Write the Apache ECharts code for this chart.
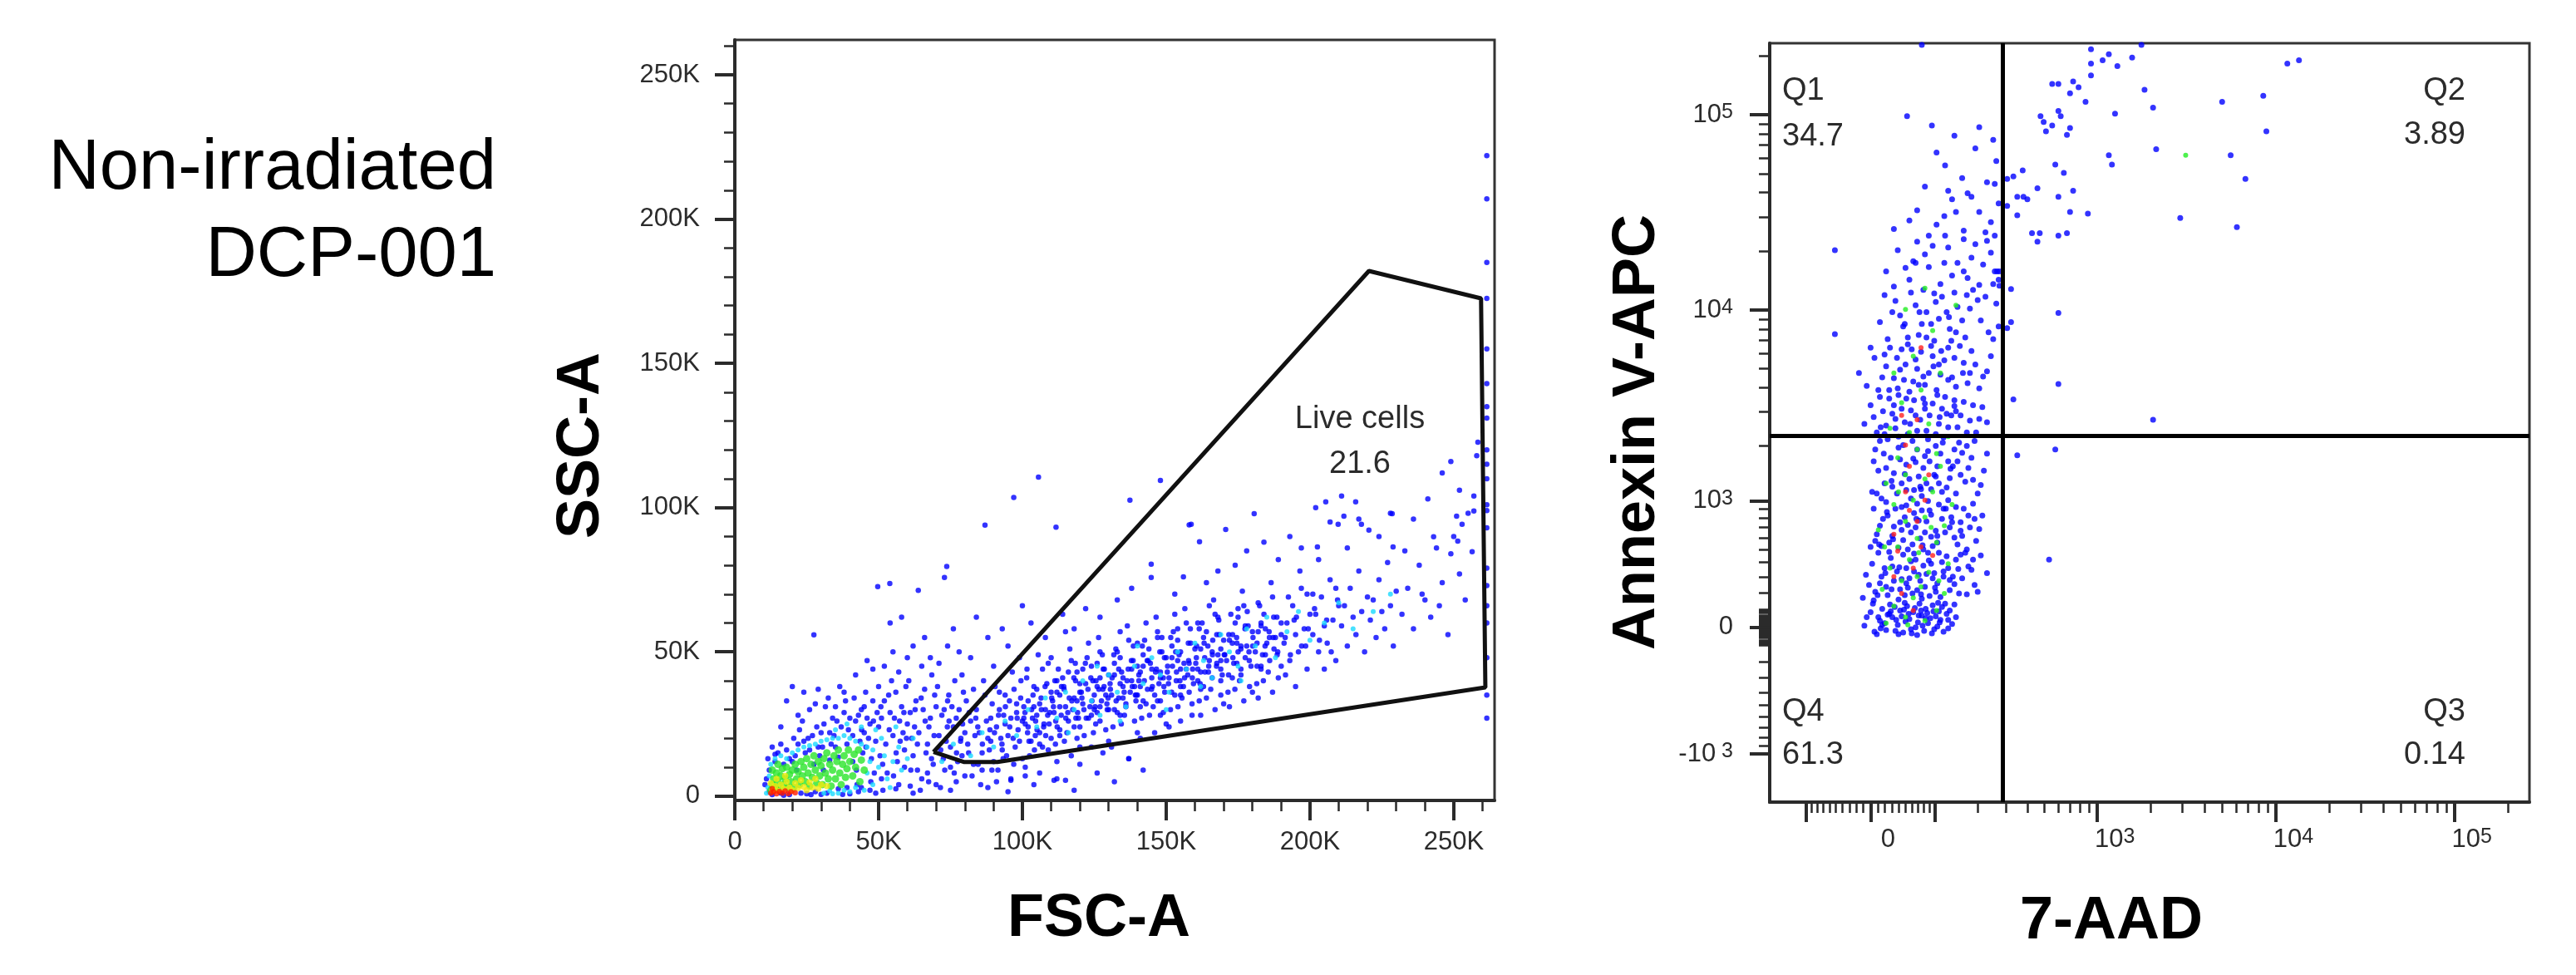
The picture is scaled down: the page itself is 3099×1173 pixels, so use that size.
<!DOCTYPE html>
<html>
<head>
<meta charset="utf-8">
<title>Non-irradiated DCP-001</title>
<script src="https://cdn.jsdelivr.net/npm/echarts@6.0.0/dist/echarts.min.js"></script>
<style>
  html, body { margin: 0; padding: 0; background: #fff; }
  #chart { width: 3099px; height: 1173px; }
</style>
</head>
<body>
<div id="chart"></div>
<script>
const FONT = '"Liberation Sans", Arial, sans-serif';
const INK = '#2b2b2b';

// ---- left plot: FSC-A vs SSC-A, values in thousands ----
const fscRange = [0, 264.2];
const sscRange = [-1.5, 262.1];
const scatterMajorTicks = [0, 50, 100, 150, 200, 250];
const scatterMinorTicks = [10, 20, 30, 40, 60, 70, 80, 90, 110, 120, 130, 140, 160, 170, 180, 190, 210, 220, 230, 240, 260];

const liveGate = [[69.1, 15.3], [79.8, 11.8], [91.3, 11.8], [261, 37.7], [259.5, 172.5], [220.5, 182], [69.1, 15.3]];
const liveGateStat = ['Live cells', '21.6'];

const fscSscBlue = [
  [13,0.5],[11,6],[12,9],[14,12],[16,1],[17,11],[19,13],[11.5,13],[15,15],[18,16],[20,12],[12,1.5],[19,0.5],[17,0.3],[14,14.5],[10.5,4],[13,17],[16,18],
  [21,14],[22,18],[23,1],[24,19],[25,0.8],[26,16],[27,21],[28,1.5],[29,17],[30,22],[20.5,20],[22.5,23],[24.5,15],[26.5,0.5],[28.5,24],[23.5,26],[27.5,11],[21.5,9],[25.5,20],[29.5,14],[30,0.6],[22,28],[26,30],[28,32],[27.5,55.9],[24,36],[29,37],[18,33],[20,38],[16,24],
  [30.5,17],[31,25],[32,1],[33,22],[34,27],[35,17],[36,2.5],[37,24],[38,29],[39,18],[40,0.8],[31.5,31],[33.5,18],[35.5,26],[37.5,0.6],[39.5,23],[32.5,34],[36.5,38],[38.5,33],[34.5,21],[30.8,9],[33,12.5],[36,13.5],[39,3],[40,27],[35,31],[38,36],
  [41,21],[42,26],[43,1.5],[44,30],[45,22],[46,27],[47,2],[48,33],[49,19],[50,24],[41.5,34],[43.5,19],[45.5,36],[47.5,13],[49.5,29],[42.5,4],[44.5,15],[46.5,20],[48.5,8],[50,38],[42,42],[46,47],[48,44],[44,3],[49,1],[47,25],[45,31],[41,12],[43,28],
  [51,27],[52,33],[53,8],[54,29],[55,21],[56,36],[57,4],[58,31],[59,16],[60,25],[50.5,14],[52.5,18],[54.5,40],[56.5,12],[58.5,22],[51.5,2],[53.5,35],[55.5,27],[57.5,19],[59.5,38],[52,45],[55,50],[57,43],[49.7,72.6],[53.9,73.7],[58,62],[54,60],[60,48],[51,6],[56,2.5],[59,10],
  [61,29],[62,14],[63,33],[64,22],[65,6],[66,37],[67,18],[68,27],[69,11],[70,31],[60.5,40],[62.5,24],[64.5,2],[66.5,15],[68.5,42],[63.5,9],[65.5,30],[67.5,24],[69.5,35],[61.5,20],[63.8,71.3],[66,55],[68,48],[62,52],[65,45],[70,4],[61,3.5],[67,8],
  [71,21],[72,28],[73,9],[74,33],[75,17],[76,24],[77,5],[78,30],[79,14],[80,22],[70.5,38],[72.5,13],[74.5,26],[76.5,40],[78.5,19],[71.5,3],[73.5,19],[75.5,31],[77.5,12],[79.5,36],[72.9,75.8],[73.7,79.6],[76,58],[78,50],[71,46],[74,52],[80,7],[75,10],[77,27],[79,42],
  [81,18],[82,26],[83,11],[84,30],[85,22],[86,15],[87,35],[88,20],[89,27],[90,12],[80.5,33],[82.5,7],[84.5,24],[86.5,40],[88.5,16],[81.5,29],[83.5,21],[85.5,4],[87.5,26],[89.5,32],[87,93.9],[84,62],[88,55],[82,48],[90,45],[86,9],[83,37],[89,19],
  [91,24],[92,30],[93,16],[94,35],[95,21],[96,27],[97,11],[98,32],[99,19],[100,26],[90.5,38],[92.5,20],[94.5,14],[96.5,43],[98.5,23],[91.5,9],[93.5,28],[95.5,33],[97.5,17],[99.5,40],[97,103.5],[93,58],[95,52],[99,48],[91,5],[96,6],[100,13],[94,25],[92,36],[98,29],
  [101,25],[102,33],[103,19],[104,38],[105,28],[106,22],[107,44],[108,30],[109,16],[110,36],[100.5,31],[101.5,41],[102.5,14],[103.5,27],[104.5,21],[105.5,49],[106.5,34],[107.5,25],[108.5,39],[109.5,29],[105.6,110.6],[103,60],[108,55],[101,10],[106,8],[110,20],[104,31],[107,17],[102,24],[109,46],[100,66],
  [111,29],[112,36],[113,23],[114,41],[115,31],[116,26],[117,47],[118,34],[119,20],[120,39],[110.5,33],[111.5,18],[112.5,44],[113.5,28],[114.5,37],[115.5,22],[116.5,51],[117.5,30],[118.5,40],[119.5,27],[111.7,93.2],[114,63],[118,58],[112,12],[117,14],[120,17],[113,35],[116,43],[119,33],[115,57],[110,48],[118,24],
  [121,32],[122,39],[123,27],[124,45],[125,35],[126,29],[127,50],[128,37],[129,23],[130,42],[120.5,36],[121.5,21],[122.5,48],[123.5,31],[124.5,40],[125.5,25],[126.5,55],[127.5,33],[128.5,44],[129.5,30],[122,65],[127,62],[124,17],[128,15],[130,19],[121,44],[126,38],[129,35],[123,53],[125,30],[127,41],[124,28],
  [131,35],[132,42],[133,29],[134,48],[135,38],[136,32],[137,54],[138,40],[139,26],[140,45],[130.5,39],[131.5,24],[132.5,51],[133.5,34],[134.5,43],[135.5,28],[136.5,59],[137.5,36],[138.5,47],[139.5,33],[137.4,102.6],[133,68],[138,72],[131,17],[137,13],[140,22],[132,46],[135,41],[139,38],[134,57],[136,31],[138,44],[130,30],
  [141,38],[142,45],[143,32],[144,51],[145,41],[146,35],[147,57],[148,43],[149,29],[150,48],[140.5,42],[141.5,27],[142.5,54],[143.5,37],[144.5,46],[145.5,31],[146.5,62],[147.5,39],[148.5,50],[149.5,36],[148,109.4],[144.8,80.4],[144.8,75.8],[141,20],[146,22],[150,25],[142,49],[145,44],[149,41],[143,60],[147,33],[140,35],[148,28],
  [151,41],[152,48],[153,35],[154,54],[155,44],[156,38],[157,60],[158,46],[159,32],[160,51],[150.5,45],[151.5,30],[152.5,57],[153.5,40],[154.5,49],[155.5,34],[156.5,65],[157.5,42],[158.5,53],[159.5,39],[158,94],[153,70],[156,76],[151,24],[155,26],[159,28],[152,52],[154,47],[157,44],[153,63],[155,38],[158,36],
  [161,44],[162,51],[163,38],[164,57],[165,47],[166,41],[167,63],[168,49],[169,35],[170,54],[160.5,48],[161.5,33],[162.5,60],[163.5,43],[164.5,52],[165.5,37],[166.5,68],[167.5,45],[168.5,56],[169.5,42],[161.6,88.2],[164,74],[168,78],[162,28],[167,30],[170,32],[163,55],[166,50],[169,47],[165,66],[161,40],
  [171,47],[172,54],[173,41],[174,60],[175,50],[176,44],[177,66],[178,52],[179,38],[180,57],[170.7,92.4],[171.5,36],[172.5,63],[173.5,46],[174.5,55],[175.5,40],[176.5,71],[177.5,48],[178.5,59],[179.5,45],[174,80],[178,85],[172,31],[177,33],[180,36],[175,62],[173,53],
  [181,50],[182,57],[183,44],[184,63],[185,53],[186,47],[187,69],[188,55],[189,41],[190,60],[181.5,39],[182.5,66],[183.5,49],[184.5,58],[185.5,43],[186.5,74],[187.5,51],[188.5,62],[184,88],[189,82],[182,34],[187,36],[190,45],
  [191,53],[192,60],[193,47],[194,66],[195,56],[196,50],[197,72],[198,58],[199,44],[200,63],[191.5,42],[192.5,69],[194.5,61],[196.5,78],[198.5,52],[193,90],[197,86],[195,38],[199,70],
  [201,56],[202,63],[203,50],[204,69],[205,59],[206,53],[207,75],[208,61],[209,47],[210,66],[203,82],[207,95],[205,44],[209,72],[201,70],[202,100],
  [211,59],[212,66],[213,52],[214,72],[215,62],[216,56],[217,78],[218,64],[219,50],[220,69],[213,86],[217,96],[211,104],
  [221,61],[222,68],[223,55],[224,75],[225,64],[226,58],[227,81],[228,66],[229,52],[230,71],[224,90],[228,98],
  [232,63],[234,72],[236,58],[238,80],[240,68],[242,62],[244,86],[246,74],[248,56],[250,90],[236,96],[241,103],[246,112],[252,77],[255,98],[258,118],[233,85],[239,70],[249,84],[254,68],[257,104],[245,66],
  [180.6,97.9],[205.5,102],[215.9,102],[228.6,97.9],[249,116],[252,106],[258.4,122.7],[158.7,94.2],[257,98.8],[211.8,97],[209.8,94.2],[217.9,94.2],[220.5,92.2],[243,89.9],[252.9,94.2],[251,97],[256.4,84.7],[251.4,88.4],[202.6,86.4],[228.9,86.4],
  [62,1],[75,2],[88,3],[95,1.5],[104,4],[112,6],[118,2],[126,8],[132,5],[137,13],[142,9],[96,5.5],[101,7],[111,5.5],[115,5.5],[120,11],
  [100.5,27],[101.8,22],[103.2,30],[104.6,26],[106,32],[107.4,24],[108.8,28],[110.2,34],[111.6,26],[113,31],[114.4,38],[115.8,29],[117.2,33],[118.6,27],[120,36],[121.4,30],[122.8,37],[124.2,33],[125.6,40],[127,31],[128.4,38],[129.8,34],[131.2,41],[132.6,33],[134,39],[135.4,36],[136.8,44],[138.2,38],[139.6,35],[141,43],[142.4,40],[143.8,47],[145.2,38],[146.6,44],[148,41],[149.4,48],[150.8,39],[152.2,45],[153.6,43],[155,50],[156.4,41],[157.8,47],[159.2,44],[160.6,52],[162,43],[163.4,48],[164.8,45],[166.2,54],[167.6,46],[169,51],[170.4,49],[171.8,56],[173.2,48],[174.6,53],[176,51],[177.4,58],[178.8,50],[180.2,55],[181.6,53],[183,60],[184.4,52],[185.8,57],[187.2,55],[188.6,49],[190,56],
  [105,37],[112,40],[119,43],[126,46],[133,50],[140,53],[147,55],[154,58],[161,60],[168,62],[175,65],[182,67],
  [106,18],[113,21],[120,24],[127,26],[134,28],[141,31],[148,33],[155,35],[162,37],[169,40],[176,42],[183,45],
  [90.3,22],[91.7,28],[92.9,18],[94.1,31],[95.6,24],[96.8,20],[98.2,27],[99.4,34],[93.3,13],[97.1,37],
  [100.9,29],[102.3,19],[103.7,35],[105.1,23],[106.6,30],[107.9,38],[109.3,25],[104.2,16],[108.1,21],[101.6,44],
  [110.8,31],[112.1,24],[113.6,38],[115.1,27],[116.3,34],[117.9,41],[119.2,29],[114.6,19],[118.4,46],[111.3,40],
  [120.7,34],[122.2,27],[123.8,41],[125.3,31],[126.6,37],[128.1,44],[129.4,32],[124.7,22],[127.8,49],[121.9,46],
  [130.6,37],[132,30],[133.5,44],[135,34],[136.4,40],[137.9,47],[139.3,35],[134.4,25],[138.6,52],[131.8,49],
  [140.5,40],[142,33],[143.4,47],[144.9,37],[146.3,43],[147.8,50],[149.2,38],[144.2,28],[148.5,55],[141.7,52],
  [150.4,43],[151.9,36],[153.3,50],[154.8,40],[156.2,46],[157.7,53],[159.1,41],[154.1,31],[158.4,58],[151.6,55],
  [160.3,46],[161.8,39],[163.2,53],[164.7,43],[166.1,49],[167.6,56],[169,44],[164,34],[168.3,61],[161.5,58],
  [170.2,49],[171.7,42],[173.1,56],[174.6,46],[176,52],[177.5,59],[178.9,47],[173.9,37],[178.2,64],
  [180.1,52],[181.6,45],[183,59],[184.5,49],[185.9,55],[187.4,62],[188.8,50],[183.8,40],
  [191.4,55],[193.2,49],[195.3,62],[197.1,52],[199.4,58],[201.6,65],[203.3,54],[205.8,61],[207.4,50],[209.6,68],
  [42.3,9],[45.6,17],[48.2,26],[51.4,11],[53.7,23],[56.1,15],[58.8,29],[61.2,9],[63.5,18],[66.2,26],[68.4,13],[71.6,16],[73.9,24],[76.3,8],[78.6,20],[81.3,15],[83.8,27],[86.1,18],[88.7,23],[44.1,23],[47.3,5],[50.8,31],[55.2,7],[59.7,20],[64.8,34],[69.3,21],[74.4,35],[79.2,25],[84.6,11],[89.4,9],[57.3,26],[62.7,30],[67.4,5],[72.8,30],[77.1,15],
  [261.5,222],[261.5,207],[261.5,185],[261.5,172.5],[261.5,155],[261.5,143],[261.5,135],[261.5,131],[261.5,120],[261.5,115],[261.5,110],[261.5,101],[261.5,99],[261.5,93],[261.5,79],[261.5,73],[261.5,66],[261.5,60],[261.5,48],[261.5,35],[261.5,27]
];

const fscSscCyan = [
  [11.5,3],[12,7],[12.5,11],[11,1],[14,13],[16,14],[18,13],[20,15],[22,16],[24,17],[26,17.5],[28,18],[30,19],[32,19.5],[34,20],[36,20],[38,21],[40,20],[42,19],[44,18],[46,17],[48,16],[47,12],[46,8],[48,4],[45,2],[42,3],[40,1.5],[38,2],[36,1],[34,0.8],[33,1.8],[31,1],[50,10],[52,14],[51,20],[49,23],[53,6],[55,12],[57,17],[58,9],[60,13],[62,20],[54,3],[56,24],[44,24],[39,25],[35,23],
  [72,12],[76,18],[82,14],[86,22],[90,17],[94,26],[98,21],[102,30],[105,24],[108,34],[112,27],[115,36],[118,30],[121,40],[124,33],[127,28],[130,42],[133,36],[136,31],[139,45],[142,39],[145,48],[148,42],[151,36],[154,50],[157,44],[160,53],[163,47],[166,41],[169,56],[172,50],[175,45],[178,58],[181,52],[185,62],[188,48],[192,57],[196,64],[200,54],[205,60],[210,67],[215,58],[222,64],[228,70],[116,22],[134,26],[150,30],[162,38],[176,40],[140,52],[126,45]
];

const fscSscGreen = [
  [12.5,2],[13,4],[13.5,6],[14,3],[14.5,8],[15,5],[15.5,2.5],[16,7],[16.5,9.5],[17,4],[17.5,6],[18,10],[18.5,3],[19,7.5],[19.5,5],[20,9],[13,9],[15,11],
  [20.5,3],[21,11],[21.5,6],[22,8.5],[22.5,4],[23,12],[23.5,7],[24,10],[24.5,5],[25,13],[25.5,8],[26,3.5],[26.5,11],[27,6.5],[27.5,14],[28,9],[28.5,4.5],[29,12],[29.5,7],[30,10.5],
  [30.5,4],[31,13],[31.5,8],[32,15],[32.5,6],[33,11],[33.5,3.5],[34,9],[34.5,14],[35,6],[35.5,12],[36,16],[36.5,8],[37,4],[37.5,11],[38,14],[38.5,6.5],[39,9.5],[39.5,16],[40,12],[41,7],[41.5,14.5],[42,10],[43,16],[43.5,5],[44,12.5],[45,9]
];

const fscSscYellow = [
  [13,2],[14,3.5],[15,1.8],[16,4],[17,2.5],[18,5],[19,3],[20,2],[21,4.5],[22,2.8],[23,5.5],[24,3.2],[25,2],[26,4.8],[27,3],[28,6],[29,2.6],[30,4],[14.5,6],[17.5,7],[12.5,4.5],[32,3.5]
];

const fscSscRed = [
  [12.5,1],[13.5,1.5],[14.5,0.8],[15.5,1.6],[16.5,1],[17.5,1.8],[18.5,0.9],[19.5,1.5],[13,2.6],[21,1.2]
];

// ---- right plot: 7-AAD vs Annexin V-APC ----
// events are stored in display units: 100 * asinh(value / cofactor)
const AAD_COFACTOR = 108;
const ANX_COFACTOR = 474;
const aadRange = [-130, 849];
const anxRange = [-206, 689];
const aadGateValue = 285;
const anxGateValue = 2257;

const aadMajorTicks = [-100, 0, 100, 1000, 10000, 100000];
const aadMinorTicks = [-90, -80, -70, -60, -50, -40, -30, -20, -10, 10, 20, 30, 40, 50, 60, 70, 80, 90,
  200, 300, 400, 500, 600, 700, 800, 900, 2000, 3000, 4000, 5000, 6000, 7000, 8000, 9000,
  20000, 30000, 40000, 50000, 60000, 70000, 80000, 90000, 200000];
const aadLabelValues = [0, 1000, 10000, 100000];
const aadLabelText = ['{b|0}', '{b|10}{s|3}', '{b|10}{s|4}', '{b|10}{s|5}'];

const anxMajorTicks = [-1000, 0, 1000, 10000, 100000];
const anxMinorTicks = [-900, -800, -700, -600, -500, -400, -300, -200, -100, -90, -80, -70, -60, -50, -40, -30, -20, -10,
  10, 20, 30, 40, 50, 60, 70, 80, 90, 100, 200, 300, 400, 500, 600, 700, 800, 900,
  2000, 3000, 4000, 5000, 6000, 7000, 8000, 9000, 20000, 30000, 40000, 50000, 60000, 70000, 80000, 90000, 200000];
const anxLabelValues = [-1000, 0, 1000, 10000, 100000];
const anxLabelText = ['{b|-10}{s| 3}', '{z|0}', '{b|10}{s|3}', '{b|10}{s|4}', '{b|10}{s|5}'];

const quadrantStats = [['Q1', '34.7'], ['Q2', '3.89'], ['Q3', '0.14'], ['Q4', '61.3']];

const annexinBlue = [
  [-8,2],[5,-5],[12,8],[20,-3],[28,12],[35,3],[42,-6],[50,10],[58,0],[66,14],[74,5],[82,-2],[90,9],[98,16],[105,4],[0,18],[15,22],[25,27],[38,20],[47,25],[55,18],[63,28],[71,22],[80,26],[88,19],[96,28],[-5,12],[8,-8],[18,5],[32,-4],[45,7],[53,-7],[61,6],[69,-4],[77,11],[86,1],[94,-5],[102,20],[110,12],[3,28],[22,15],[40,13],[57,23],[73,17],[92,24],[108,27],[31,24],[49,16],[67,2],[84,13],[13,-1],[26,19],[36,-8],[60,-9],[79,-7],[100,-1],[44,29],[65,20],[87,29],[10,12],
  [-10,35],[-2,50],[6,42],[14,60],[22,38],[30,55],[38,45],[46,70],[54,40],[62,62],[70,48],[78,75],[86,52],[94,66],[102,44],[110,80],[118,58],[126,72],[134,50],[142,85],[150,64],[2,75],[10,88],[18,70],[26,82],[34,66],[42,86],[50,58],[58,80],[66,34],[74,88],[82,64],[90,36],[98,84],[106,60],[114,40],[122,88],[130,68],[138,42],[-6,62],[4,32],[20,48],[36,33],[52,78],[68,73],[84,42],[100,70],[116,86],[132,80],[48,47],[64,55],[80,58],[28,72],[12,52],[92,77],[76,37],[56,87],[40,57],[24,89],[108,51],[124,39],[60,44],[44,38],[72,63],[88,88],
  [0,95],[8,110],[16,128],[24,100],[32,140],[40,115],[48,92],[56,135],[64,105],[72,125],[80,96],[88,145],[96,112],[104,130],[112,98],[120,140],[128,118],[136,102],[144,132],[4,140],[12,120],[20,148],[28,108],[36,94],[44,130],[52,112],[60,146],[68,92],[76,138],[84,114],[92,128],[100,150],[108,106],[116,124],[124,92],[132,146],[140,116],[6,102],[22,132],[38,124],[54,98],[70,112],[86,100],[102,118],[118,108],[134,128],[46,144],[62,126],[78,107],[94,140],[30,119],[14,96],[58,118],[74,149],[110,142],[126,132],[42,103],[66,138],
  [2,160],[10,185],[18,170],[26,200],[34,158],[42,215],[50,175],[58,195],[66,155],[74,222],[82,180],[90,205],[98,165],[106,190],[114,218],[122,172],[130,200],[138,158],[146,185],[6,210],[14,152],[22,222],[30,182],[38,198],[46,162],[54,220],[62,178],[70,202],[78,163],[86,190],[94,224],[102,176],[110,158],[118,206],[126,188],[134,220],[142,168],[150,205],[4,196],[20,188],[36,225],[52,152],[68,188],[84,214],[100,196],[116,180],[132,174],[44,181],[60,210],[76,196],[92,160],[108,210],[124,214],[28,166],[12,220],[56,162],[72,170],[88,170],[40,170],[64,166],
  [-8,240],[0,262],[8,230],[16,255],[24,270],[32,235],[40,258],[48,228],[56,268],[64,245],[72,232],[80,264],[88,240],[96,272],[104,250],[112,236],[120,266],[128,244],[136,230],[144,260],[150,242],[4,248],[12,272],[20,238],[28,252],[36,274],[44,242],[52,256],[60,232],[68,270],[76,250],[84,228],[92,258],[100,236],[108,268],[116,250],[124,230],[132,262],[140,246],[18,228],[58,250],[98,252],[70,258],[30,262],[86,274],[110,255],[46,270],
  [-15,300],[-5,285],[5,318],[15,295],[25,330],[35,282],[45,310],[55,290],[65,325],[75,300],[85,280],[95,315],[105,295],[115,332],[125,288],[135,310],[145,296],[155,320],[10,280],[20,308],[30,294],[40,328],[50,278],[60,305],[70,286],[80,320],[90,298],[100,330],[110,284],[120,312],[130,326],[140,282],[150,302],[0,330],[48,334],[68,296],[88,310],[108,318],[128,300],[78,332],[58,316],[38,304],[18,322],
  [-46,346],[12,360],[22,340],[32,385],[42,355],[52,395],[62,345],[72,372],[82,338],[92,390],[102,352],[112,378],[122,342],[132,398],[142,362],[152,348],[162,382],[18,392],[38,368],[58,380],[78,358],[98,372],[118,362],[138,386],[158,340],[48,342],[68,398],[88,364],[108,395],[128,376],[148,390],[28,372],[66,358],[104,338],[84,384],[124,392],
  [-46,445],[20,420],[35,445],[50,410],[60,455],[75,425],[90,405],[100,448],[112,430],[125,412],[135,452],[145,428],[155,442],[165,410],[30,402],[55,432],[80,450],[105,415],[120,458],[140,404],[160,420],[45,424],[70,440],[95,430],[150,456],[130,436],
  [30,470],[60,492],[85,475],[105,505],[120,468],[140,490],[155,478],[165,500],[95,485],[130,508],[75,462],[110,490],[50,480],[148,466],[160,462],
  [70,520],[96,545],[118,530],[135,565],[150,525],[162,550],[108,580],[140,590],[85,560],[125,512],[158,575],[100,515],
  [66,687],[47,603],[79,592],[160,523],[163,420],[158,405],[165,355],
  [15,3],[33,9],[52,-2],[71,11],[89,6],[24,16],[43,21],[62,14],[81,19],[100,9],
  [9,38],[27,45],[46,52],[65,39],[83,47],[102,56],[19,64],[37,71],[56,66],[75,79],[94,60],[113,69],
  [11,98],[29,104],[48,121],[67,97],[86,108],[105,124],[21,136],[40,142],[59,128],[78,133],[97,140],[116,114],
  [8,158],[27,173],[46,192],[65,163],[84,178],[103,187],[17,205],[36,212],[55,199],[74,208],[93,218],[112,196],
  [13,236],[32,246],[51,240],[70,264],[89,248],[108,261],[24,280],[43,292],[62,286],[81,308],[100,292],[119,300],
  [34,318],[53,328],[72,342],[91,326],[110,348],[44,358],[63,372],[82,394],[101,366],[120,420],[58,430],[96,462],
  [284,682],[307,676],[299,669],[337,672],[318,662],[349,687],[284,665],[284,651],[234,641],[242,641],[261,644],[268,637],[257,630],[277,620],[353,634],[364,613],[315,606],[453,620],[506,627],[537,665],[552,669],[510,585],[368,564],[464,557],[483,529],[307,557],[311,546],[238,546],[249,536],[219,603],[223,596],[226,585],[234,592],[242,609],[245,603],[257,589],[253,581],[196,539],[184,532],[176,529],[215,518],[189,508],[197,508],[202,505],[242,508],[261,515],[257,490],[280,488],[189,486],[176,497],[208,465],[218,465],[215,455],[242,462],[253,465],[399,483],[472,472],[181,399],[166,420],[166,403],[181,360],[176,353],[242,371],[242,287],[184,269],[364,245],[189,203],[238,210],[230,80]
];

const annexinGreen = [
  [20,5],[45,12],[70,8],[30,25],[55,35],[85,20],[15,45],[40,55],[65,48],[95,40],[25,70],[50,80],[75,65],[100,75],[35,95],[60,105],[85,100],[10,115],[45,125],[70,130],[95,120],[30,145],[55,150],[80,160],[105,145],[20,170],[45,180],[70,175],[90,190],[35,200],[60,210],[85,205],[50,230],[75,240],[100,225],[25,235],[40,265],[65,280],[90,300],[55,320],[80,350],[45,375],[70,400],[110,380],[30,300],[60,60],[48,3],[88,55],[18,95],[62,88],[36,160],[78,118],[406,557]
];

const annexinRed = [
  [40,40],[55,70],[30,110],[60,125],[45,160],[70,150],[50,190],[35,90],[65,95],[55,20],[75,180],[45,215],[60,245],[30,60],[80,85],[50,138],[65,330],[40,250]
];

// ---- helpers ----
const biex = (v, c) => 100 * Math.asinh(v / c);
const kLabel = v => (v === 0 ? '0' : v + 'K');

function lookupLabel(values, texts, cofactor) {
  return val => {
    const i = values.findIndex(v => Math.abs(biex(v, cofactor) - val) < 1e-6);
    return i < 0 ? '' : texts[i];
  };
}

const richLabels = {
  b: { fontSize: 31, fontFamily: FONT, color: INK, lineHeight: 31, padding: [20, 0, 0, 0], verticalAlign: 'bottom' },
  s: { fontSize: 25, fontFamily: FONT, color: INK, lineHeight: 25, verticalAlign: 'top' },
  z: { fontSize: 31, fontFamily: FONT, color: INK, lineHeight: 31 }
};

function majorAxis(gridIndex, position, range, ticks, label) {
  return {
    gridIndex, position, type: 'value', min: range[0], max: range[1],
    axisLine: { onZero: false, lineStyle: { color: INK, width: 4 } },
    axisTick: { customValues: ticks, length: 24, lineStyle: { color: INK, width: 4 } },
    axisLabel: Object.assign({ fontSize: 31, fontFamily: FONT, color: INK }, label),
    splitLine: { show: false }
  };
}

function minorAxis(gridIndex, position, range, ticks) {
  return {
    gridIndex, position, type: 'value', min: range[0], max: range[1],
    axisLine: { show: false, onZero: false },
    axisTick: { customValues: ticks, length: 13, lineStyle: { color: INK, width: 2.5 } },
    axisLabel: { show: false },
    splitLine: { show: false }
  };
}

function dots(data, color, size, axisIndex, z) {
  return {
    type: 'scatter', xAxisIndex: axisIndex, yAxisIndex: axisIndex, data,
    symbol: 'circle', symbolSize: size, itemStyle: { color }, silent: true, z
  };
}

function text(str, x, y, size, opts = {}) {
  return {
    type: 'text', x, y, rotation: opts.rotation || 0, z: 100, silent: true,
    style: {
      text: str, fill: opts.color || INK,
      font: `${opts.weight || 'normal'} ${size}px ${FONT}`,
      align: opts.align || 'center', verticalAlign: 'middle'
    }
  };
}

const aadTickU = v => biex(v, AAD_COFACTOR);
const anxTickU = v => biex(v, ANX_COFACTOR);

const chart = echarts.init(document.getElementById('chart'));

chart.setOption({
  animation: false,
  backgroundColor: '#fff',
  textStyle: { fontFamily: FONT },
  grid: [
    { left: 884, top: 48, width: 914, height: 915, show: true, borderColor: '#333', borderWidth: 3, backgroundColor: 'transparent' },
    { left: 2129, top: 52, width: 914, height: 913, show: true, borderColor: '#333', borderWidth: 3, backgroundColor: 'transparent' }
  ],
  xAxis: [
    majorAxis(0, 'bottom', fscRange, scatterMajorTicks, { customValues: scatterMajorTicks, formatter: kLabel, margin: 35 }),
    minorAxis(0, 'bottom', fscRange, scatterMinorTicks),
    majorAxis(1, 'bottom', aadRange, aadMajorTicks.map(aadTickU), {
      customValues: aadLabelValues.map(aadTickU),
      formatter: lookupLabel(aadLabelValues, aadLabelText, AAD_COFACTOR),
      rich: richLabels, margin: 30, padding: [0, 0, 0, 42]
    }),
    minorAxis(1, 'bottom', aadRange, aadMinorTicks.map(aadTickU))
  ],
  yAxis: [
    majorAxis(0, 'left', sscRange, scatterMajorTicks, { customValues: scatterMajorTicks, formatter: kLabel, margin: 42 }),
    minorAxis(0, 'left', sscRange, scatterMinorTicks),
    majorAxis(1, 'left', anxRange, anxMajorTicks.map(anxTickU), {
      customValues: anxLabelValues.map(anxTickU),
      formatter: lookupLabel(anxLabelValues, anxLabelText, ANX_COFACTOR),
      rich: richLabels, margin: 44
    }),
    minorAxis(1, 'left', anxRange, anxMinorTicks.map(anxTickU))
  ],
  series: [
    dots(fscSscBlue, '#0000ff', 6.5, 0, 2),
    dots(fscSscCyan, '#19d9ff', 6, 0, 3),
    dots(fscSscGreen, '#2be52b', 9, 0, 4),
    dots(fscSscYellow, '#f2ea10', 7.5, 0, 5),
    dots(fscSscRed, '#ff1a00', 6.5, 0, 6),
    {
      type: 'line', xAxisIndex: 0, yAxisIndex: 0, data: liveGate,
      symbol: 'none', silent: true, z: 10,
      lineStyle: { color: '#111', width: 5 }
    },
    dots(annexinBlue, '#0000ff', 7, 2, 2),
    dots(annexinGreen, '#22ee22', 6, 2, 3),
    Object.assign(dots(annexinRed, '#ff2020', 6, 2, 4), {
      markLine: {
        silent: true, symbol: 'none', animation: false,
        label: { show: false },
        lineStyle: { color: '#000', width: 5, type: 'solid' },
        data: [{ xAxis: aadTickU(aadGateValue) }, { yAxis: anxTickU(anxGateValue) }]
      }
    })
  ],
  graphic: [
    text('Non-irradiated', 597, 204, 85, { align: 'right', color: '#000' }),
    text('DCP-001', 597, 309, 85, { align: 'right', color: '#000' }),
    text('SSC-A', 700, 536, 72, { weight: 'bold', color: '#000', rotation: Math.PI / 2 }),
    text('FSC-A', 1322, 1106, 72, { weight: 'bold', color: '#000' }),
    text('Annexin V-APC', 1970, 520, 72, { weight: 'bold', color: '#000', rotation: Math.PI / 2 }),
    text('7-AAD', 2540, 1109, 72, { weight: 'bold', color: '#000' }),
    text(liveGateStat[0], 1636, 505, 38),
    text(liveGateStat[1], 1636, 559, 38),
    text(quadrantStats[0][0], 2144, 110, 38, { align: 'left' }),
    text(quadrantStats[0][1], 2144, 165, 38, { align: 'left' }),
    text(quadrantStats[1][0], 2966, 110, 38, { align: 'right' }),
    text(quadrantStats[1][1], 2966, 163, 38, { align: 'right' }),
    text(quadrantStats[2][0], 2966, 857, 38, { align: 'right' }),
    text(quadrantStats[2][1], 2966, 909, 38, { align: 'right' }),
    text(quadrantStats[3][0], 2144, 857, 38, { align: 'left' }),
    text(quadrantStats[3][1], 2144, 909, 38, { align: 'left' })
  ]
});
</script>
</body>
</html>
